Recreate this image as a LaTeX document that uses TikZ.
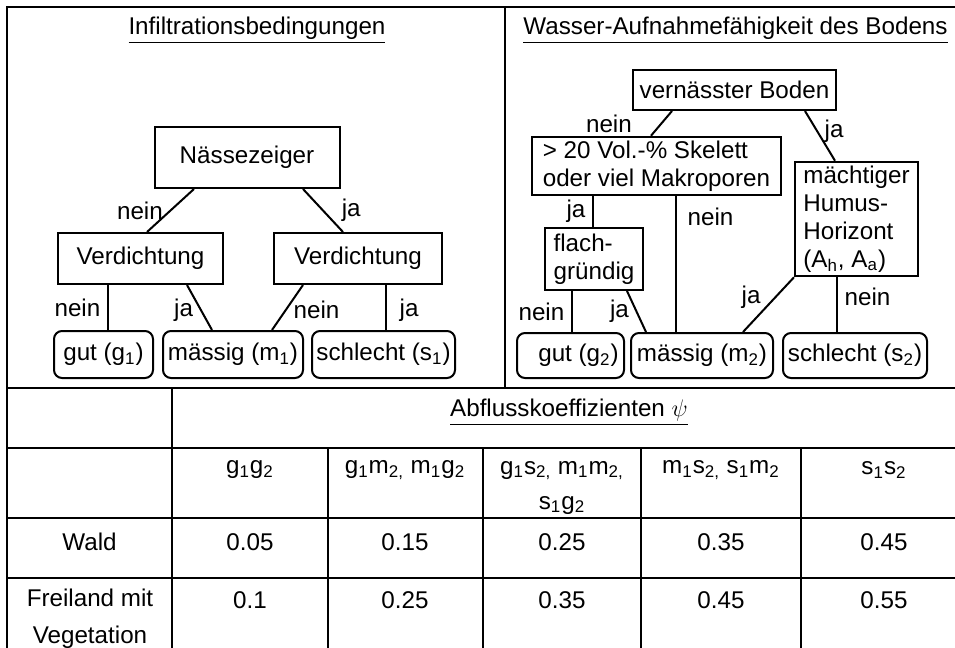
\documentclass[tikz,border=0pt]{standalone}
\usepackage{fontspec}
\setmainfont{Liberation Sans}
\usepackage{tikz}
\usetikzlibrary{calc, positioning}

\newcommand{\ix}[1]{\textsubscript{#1}}

\begin{document}
\begin{tikzpicture}[x=0.5pt, y=-0.5pt,
    font=\fontsize{12.1}{14}\selectfont,
    box/.style={draw, line width=1pt, inner sep=2pt},
    leaf/.style={draw, line width=1pt, rounded corners=4pt, inner sep=1pt},
    edge/.style={line width=1pt},
    grid/.style={line width=0.9pt}]
    \useasboundingbox (0,0) rectangle (955,648);

    % outer frame and panel borders
    \draw[grid] (955,7) -- (7,7) -- (7,648);
    \draw[grid] (505,7) -- (505,388);
    \draw[grid] (7,388) -- (955,388);

    % infiltration tree
    \node (title1) at (257,30) {\underline{Infiltrationsbedingungen}};
    \node[box, minimum width=92.5pt, minimum height=30.5pt] (nz) at (247,157.5) {Nässezeiger};
    \node[box, minimum width=82.5pt, minimum height=25.5pt] (vl) at (140.5,258.5) {Verdichtung};
    \node[box, minimum width=84pt, minimum height=25.5pt] (vr) at (358,258.5) {Verdichtung};
    \node[leaf, minimum width=49.5pt, minimum height=23.5pt] (g1) at (103.5,354.5) {gut (g\ix{1})};
    \node[leaf, minimum width=70pt, minimum height=23.5pt] (m1) at (233,354.5) {mässig (m\ix{1})};
    \node[leaf, minimum width=71.5pt, minimum height=23.5pt] (s1) at (383.5,354.5) {schlecht (s\ix{1})};
    \draw[edge]
    ($(nz.south)+(-53,0)$) -- node[left] {nein} ($(vl.north)+(6.5,0)$);
    \draw[edge]
    ($(nz.south)+(56,0)$) -- node[right=5.6pt] {ja} ($(vr.north)+(-15,0)$);
    \draw[edge]
    ($(vl.south)+(-32.5,0)$) -- node[left] {nein} ($(g1.north)+(4.5,0)$);
    \draw[edge]
    ($(vl.south)+(46.5,0)$) -- node[left, pos=0.55] {ja} ($(m1.north)+(-21,0)$);
    \draw[edge]
    ($(vr.south)+(-55,0)$) -- node[right, pos=0.55] {nein} ($(m1.north)+(39,0)$);
    \draw[edge]
    ($(vr.south)+(28,0)$) -- node[right=3pt, pos=0.55] {ja} ($(s1.north)+(2.5,0)$);

    % soil water uptake tree
    \node (title2) at (735.5,30) {\underline{Wasser-Aufnahmefähigkeit des Bodens}};
    \node[box, minimum width=101.5pt, minimum height=20pt] (vb) at (734.5,90) {vernässter Boden};
    \node[box, align=left, minimum width=124.5pt, minimum height=29pt] (sk) at (656.5,166)
    {> 20 Vol.-\% Skelett\\oder viel Makroporen};
    \node[box, align=left, minimum width=49pt, minimum height=31pt] (fg) at (594,259) {flach-\\gründig};
    \node[box, align=left, minimum width=61.5pt, minimum height=57pt] (mh) at (856.5,219)
    {mächtiger\\Humus-\\Horizont\\(A\ix{h}, A\ix{a})};
    \node[leaf, minimum width=53.5pt, minimum height=22.5pt] (g2) at (570.5,355.5) {\hspace{8pt}gut (g\ix{2})};
    \node[leaf, minimum width=71pt, minimum height=22.5pt] (m2) at (702,355.5) {mässig (m\ix{2})};
    \node[leaf, minimum width=72pt, minimum height=22.5pt] (s2) at (855,355.5) {schlecht (s\ix{2})};
    \draw[edge]
    ($(vb.south)+(-62.5,0)$) -- node[left=11pt] {nein} ($(sk.north)+(-5.5,0)$);
    \draw[edge]
    ($(vb.south)+(70.5,0)$) -- node[pos=0.4, right] {ja} ($(mh.north)+(-21.5,0)$);
    \draw[edge]
    ($(sk.south)+(-63.5,0)$) -- node[left] {ja} ($(fg.north)+(-1,0)$);
    \draw[edge]
    ($(sk.south)+(19.5,0)$) -- node[pos=0.15, right=2pt] {nein} ($(m2.north)+(-26,0)$);
    \draw[edge]
    ($(fg.south)+(-22,0)$) -- node[left] {nein} ($(g2.north)+(1.5,0)$);
    \draw[edge]
    ($(fg.south)+(33,0)$) -- node[left] {ja} ($(m2.north)+(-56,0)$);
    \draw[edge]
    (mh.south west) -- node[pos=0.37, left=3.5pt] {ja} ($(m2.north)+(41,0)$);
    \draw[edge]
    ($(mh.south)+(-19.5,0)$) -- node[pos=0.35, right] {nein} ($(s2.north)+(-18,0)$);

    % runoff coefficient table
    \draw[grid] (7,448) -- (955,448);
    \draw[grid] (7,518) -- (955,518);
    \draw[grid] (7,578) -- (955,578);
    \draw[grid] (172,388) -- (172,648);
    \draw[grid] (328,448) -- (328,648);
    \draw[grid] (483,448) -- (483,648);
    \draw[grid] (641,448) -- (641,648);
    \draw[grid] (801,448) -- (801,648);

    \node (psi) at (569,412) {\underline{Abflusskoeffizienten $\psi$}};
    \node (h1) at (250,470) {g\ix{1}g\ix{2}};
    \node (h2) at (405,470) {g\ix{1}m\ix{2,} m\ix{1}g\ix{2}};
    \node[align=center, font=\fontsize{12.1}{17.5}\selectfont] (h3) at (562,487.5)
    {g\ix{1}s\ix{2,} m\ix{1}m\ix{2,}\\s\ix{1}g\ix{2}};
    \node (h4) at (721,470) {m\ix{1}s\ix{2,} s\ix{1}m\ix{2}};
    \node (h5) at (884,470) {s\ix{1}s\ix{2}};

    \node (wald) at (89.5,542) {Wald};
    \node (w1) at (250,542) {0.05};
    \node (w2) at (405,542) {0.15};
    \node (w3) at (562,542) {0.25};
    \node (w4) at (721,542) {0.35};
    \node (w5) at (884,542) {0.45};

    \node[align=center, font=\fontsize{12.1}{18.5}\selectfont] (frei) at (90,618.5)
    {Freiland mit\\Vegetation};
    \node (f1) at (250,600) {0.1};
    \node (f2) at (405,600) {0.25};
    \node (f3) at (562,600) {0.35};
    \node (f4) at (721,600) {0.45};
    \node (f5) at (884,600) {0.55};
\end{tikzpicture}
\end{document}
